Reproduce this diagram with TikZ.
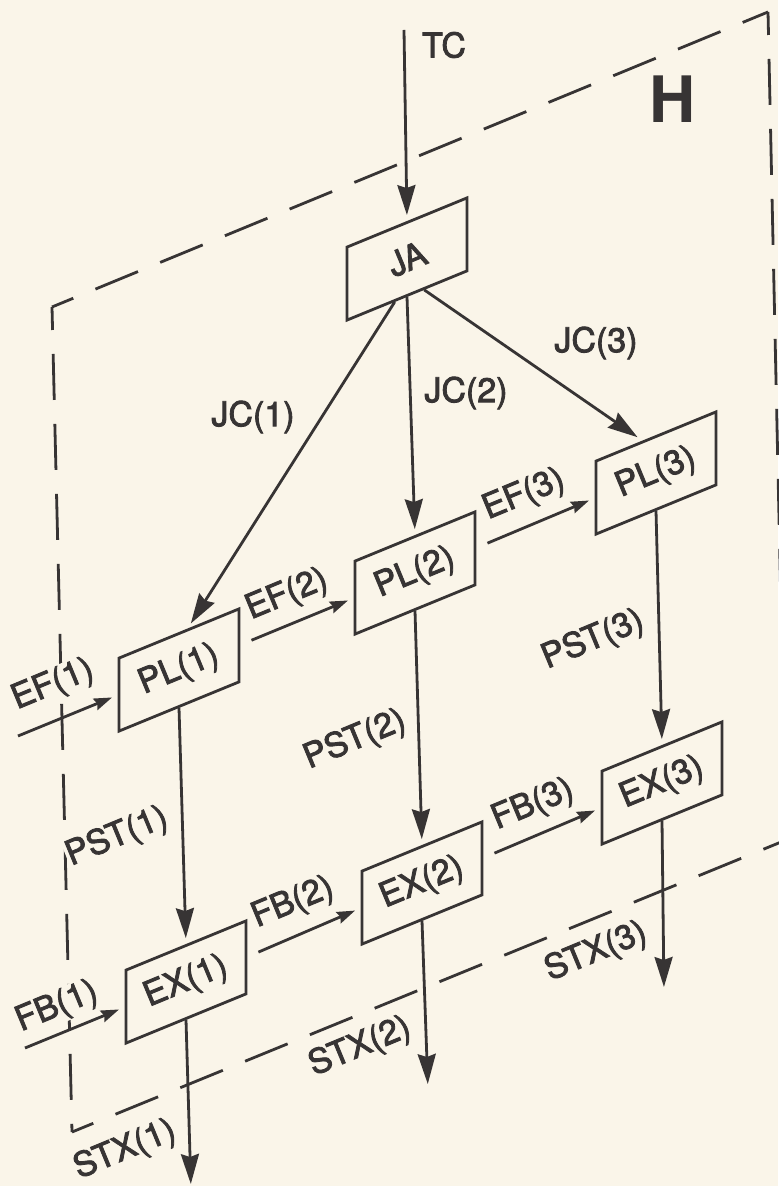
\documentclass[tikz,border=0pt]{standalone}
\usepackage{fontspec}
\setmainfont{TeX Gyre Heros}
\newfontfamily\lblfont[FakeBold=2.5]{TeX Gyre Heros}
\usetikzlibrary{arrows.meta,calc}
\definecolor{paper}{RGB}{250,245,233}
\definecolor{ink}{RGB}{55,52,52}

\begin{document}
\begin{tikzpicture}[x=0.5pt, y=-0.5pt, line width=1.4pt, color=ink,
  blk/.style={draw, minimum width=60pt, minimum height=36.5pt, inner sep=0pt, yslant=0.41},
  blktxt/.style={rotate=22.5, inner sep=0pt, font=\lblfont\fontsize{17}{20}\selectfont},
  lbl/.style={fill=paper, inner sep=0.5pt, font=\lblfont\fontsize{17}{20}\selectfont},
  slbl/.style={lbl, rotate=22.5},
  flow/.style={-{Stealth[length=15pt, width=9pt, inset=1.5pt]}, shorten >=3pt},
  feed/.style={-{Stealth[length=9pt, width=6pt, inset=1pt]}, shorten >=3pt},
  plane/.style={dash pattern=on 23pt off 12pt, dash phase=11.5pt}]
  \fill[paper] (0,0) rectangle (778,1186);
  \useasboundingbox (0,0) rectangle (778,1186);

  % plane H
  \coordinate (h-tl) at (52,307);
  \coordinate (h-tr) at (768,12);
  \coordinate (h-br) at (786,840);
  \coordinate (h-bl) at (72,1132);
  \draw[plane] (h-tl) -- (h-tr);
  \draw[plane] (h-tl) -- (h-bl);
  \draw[plane] (h-bl) -- (h-br);
  \draw[plane] (h-tr) -- (h-br);
  \node[font=\bfseries\fontsize{32}{36}\selectfont, inner sep=0pt] (h-lbl) at (673,99) {H};

  % blocks
  \node[blk] (ja) at (407,259) {};
  \node[blk] (pl1) at (179,670) {};
  \node[blk] (pl2) at (415,573) {};
  \node[blk] (pl3) at (656,473) {};
  \node[blk] (ex1) at (186,982) {};
  \node[blk] (ex2) at (422,883) {};
  \node[blk] (ex3) at (662,783) {};
  \node[blktxt] (ja-t) at (ja) {JA};
  \node[blktxt] (pl1-t) at (pl1) {PL(1)};
  \node[blktxt] (pl2-t) at (pl2) {PL(2)};
  \node[blktxt] (pl3-t) at (pl3) {PL(3)};
  \node[blktxt] (ex1-t) at (ex1) {EX(1)};
  \node[blktxt] (ex2-t) at (ex2) {EX(2)};
  \node[blktxt] (ex3-t) at (ex3) {EX(3)};

  % free ends
  \coordinate (tc-in) at (404,30);
  \coordinate (ef1-in) at (18,736);
  \coordinate (fb1-in) at (25,1048);
  \coordinate (stx1-out) at (191,1190);
  \coordinate (stx2-out) at (428,1090);
  \coordinate (stx3-out) at (664,993);

  % labels
  \node[lbl] (tc-l) at (444,45) {TC};
  \node[lbl] (jc1-l) at (253,417) {JC(1)};
  \node[lbl] (jc2-l) at (466,393) {JC(2)};
  \node[lbl] (jc3-l) at (596,343) {JC(3)};
  \node[slbl] (ef1-l) at (53,685) {EF(1)};
  \node[slbl] (ef2-l) at (287,595) {EF(2)};
  \node[slbl] (ef3-l) at (524,495) {EF(3)};
  \node[slbl] (pst1-l) at (117,837) {PST(1)};
  \node[slbl] (pst2-l) at (355,740) {PST(2)};
  \node[slbl] (pst3-l) at (593,640) {PST(3)};
  \node[slbl] (fb1-l) at (57,1007) {FB(1)};
  \node[slbl] (fb2-l) at (293,903) {FB(2)};
  \node[slbl] (fb3-l) at (533,805) {FB(3)};
  \node[slbl] (stx1-l) at (125,1150) {STX(1)};
  \node[slbl] (stx2-l) at (360,1047) {STX(2)};
  \node[slbl] (stx3-l) at (596,952) {STX(3)};

  % connectors
  \draw[flow] (tc-in) -- (ja.north);
  \draw[flow] ($(ja.south west)!0.4!(ja.south east)$) -- ($(pl1.north west)!0.57!(pl1.north east)$);
  \draw[flow] (ja.south) -- (pl2.north);
  \draw[flow] ($(ja.south west)!0.64!(ja.south east)$) -- ($(pl3.north west)!0.39!(pl3.north east)$);
  \draw[flow] (pl1.south) -- (ex1.north);
  \draw[flow] (pl2.south) -- (ex2.north);
  \draw[flow] (pl3.south) -- (ex3.north);
  \draw[flow] (ex1.south) -- (stx1-out);
  \draw[flow] (ex2.south) -- (stx2-out);
  \draw[flow] (ex3.south) -- (stx3-out);
  \draw[feed] (ef1-in) -- (pl1.west);
  \draw[feed, shorten <=6pt] (pl1.east) -- (pl2.west);
  \draw[feed, shorten <=6pt] (pl2.east) -- (pl3.west);
  \draw[feed] (fb1-in) -- (ex1.west);
  \draw[feed, shorten <=6pt] (ex1.east) -- (ex2.west);
  \draw[feed, shorten <=6pt] (ex2.east) -- (ex3.west);
\end{tikzpicture}
\end{document}
